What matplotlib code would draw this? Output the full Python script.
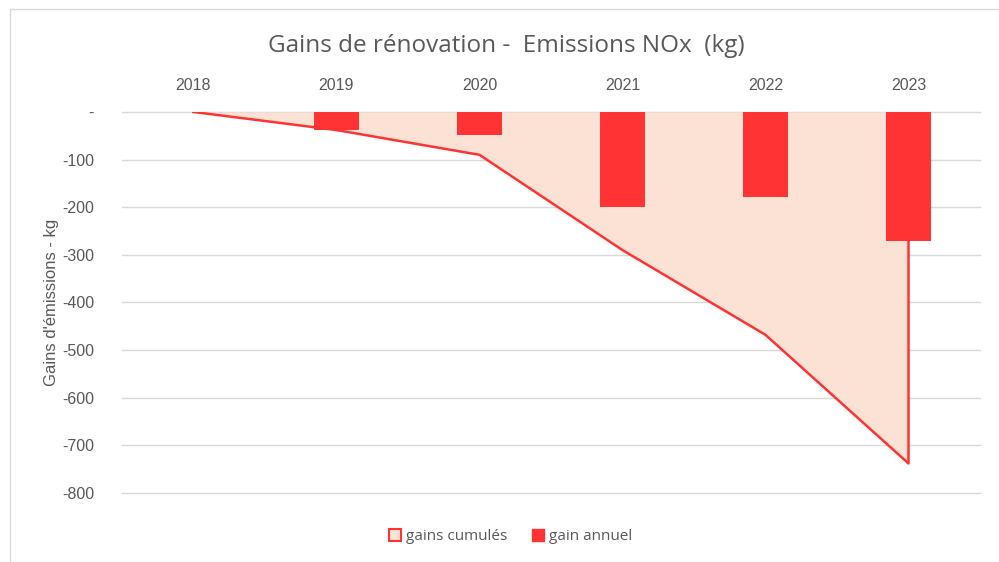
import numpy as np
import matplotlib.pyplot as plt
from matplotlib.patches import Rectangle, Patch

years = ["2018", "2019", "2020", "2021", "2022", "2023"]
gain_annuel = [0, -38, -48, -199, -178, -271]
gains_cumules = [0, -38, -90, -290, -468, -738]
yticks = [0, -100, -200, -300, -400, -500, -600, -700, -800]

grey = "#595959"
red = "#ff3333"
peach = "#fbe2d5"

fig = plt.figure(figsize=(9.99, 5.62), dpi=100)
ax = fig.add_axes([0.122, 0.1228, 0.859, 0.678])

x = np.arange(len(years))

# cumulative area, closed back to zero on the last year
xs = np.concatenate([x, [x[-1]]])
ys = np.concatenate([gains_cumules, [0]])
ax.fill_between(x, gains_cumules, 0, color=peach, lw=0, zorder=1)
ax.plot(xs, ys, color=red, lw=1.8, zorder=3)

ax.bar(x, gain_annuel, width=0.31, color=red, zorder=2)

ax.set_xlim(-0.5, len(years) - 0.5)
ax.set_ylim(-800, 0)
ax.set_yticks(yticks)
ax.set_yticklabels(["-" if v == 0 else str(v) for v in yticks],
                   family="Liberation Sans", fontsize=11.5, color=grey)
ax.yaxis.grid(True, color="#d9d9d9", lw=1)
for gl in ax.get_ygridlines():
    gl.set_clip_on(False)
ax.set_axisbelow(True)

ax.xaxis.tick_top()
ax.set_xticks(x)
ax.set_xticklabels(years, family="Liberation Sans", fontsize=11.5, color=grey)
ax.tick_params(axis="both", length=0)
ax.tick_params(axis="x", pad=14)
ax.tick_params(axis="y", pad=20)
for s in ax.spines.values():
    s.set_visible(False)

ax.set_ylabel("Gains d'émissions - kg", family="Liberation Sans",
              fontsize=12, color=grey, labelpad=2)

fig.text(0.507, 0.918, "Gains de rénovation -  Emissions NOx  (kg)",
         ha="center", va="center", family="Open Sans", fontsize=17.5, color=grey)

handles = [Patch(facecolor=peach, edgecolor=red, lw=1.5, label="gains cumulés"),
           Patch(facecolor=red, edgecolor=red, label="gain annuel")]
fig.legend(handles=handles, loc="center", bbox_to_anchor=(0.511, 0.045), ncol=2,
           frameon=False, handlelength=0.8, handleheight=0.8, handletextpad=0.3,
           columnspacing=1.6, prop={"family": "Open Sans", "size": 11},
           labelcolor=grey)

fig.patches.append(Rectangle((10 / 999, -0.01), 1.0, 1 - 9 / 562 + 0.01,
                             transform=fig.transFigure, fill=False,
                             edgecolor="#d9d9d9", lw=1))

fig.savefig("out.png", dpi=100)
